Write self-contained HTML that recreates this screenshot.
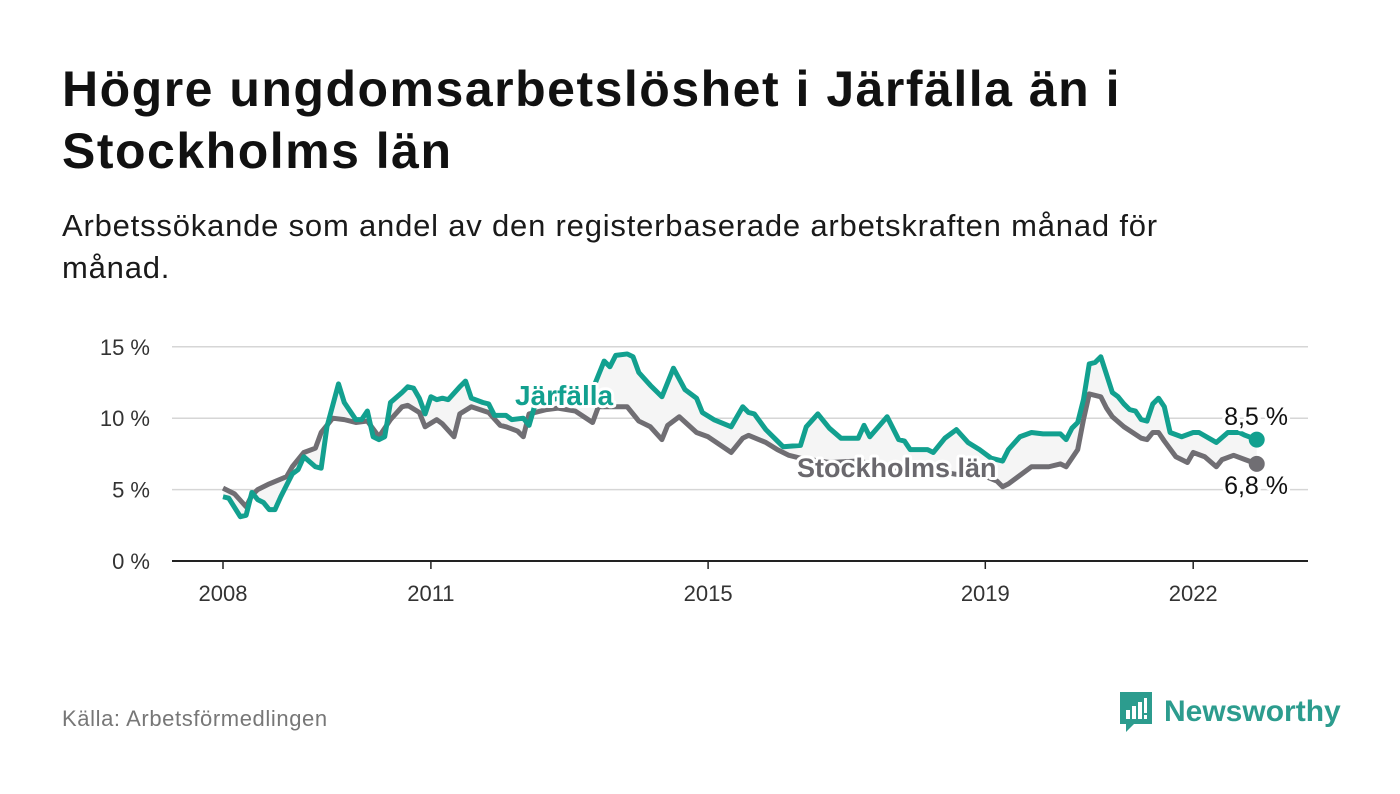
<!DOCTYPE html>
<html><head><meta charset="utf-8"><style>
body{margin:0;width:1400px;height:794px;background:#fff;font-family:"Liberation Sans",sans-serif;overflow:hidden;position:relative}
h1{position:absolute;left:62px;top:58px;margin:0;font-size:50px;line-height:62px;font-weight:bold;color:#111;width:1190px;letter-spacing:1.5px}
.sub{position:absolute;left:62px;top:205px;font-size:31px;line-height:42px;color:#1a1a1a;width:1180px;letter-spacing:0.8px}
.src{position:absolute;left:62px;top:706px;font-size:22px;color:#777;letter-spacing:0.6px}
.logo{position:absolute;left:1118px;top:690px;display:flex;align-items:center;gap:10px;color:#2c9c8e;font-size:30px;font-weight:bold}
svg text{font-family:"Liberation Sans",sans-serif}
</style></head><body>
<h1>Högre ungdomsarbetslöshet i Järfälla än i Stockholms län</h1>
<div class="sub">Arbetssökande som andel av den registerbaserade arbetskraften månad för månad.</div>
<svg id="chart" width="1400" height="794" style="position:absolute;left:0;top:0"></svg>
<div class="src">Källa: Arbetsförmedlingen</div>
<div class="logo">
<svg width="36" height="44" viewBox="0 0 36 44"><path d="M2 2h32v32H16l-8 8v-8H2z" fill="#2c9c8e"/><rect x="8" y="20" width="4" height="9" fill="#fff"/><rect x="14" y="16" width="4" height="13" fill="#fff"/><rect x="20" y="12" width="4" height="17" fill="#fff"/><rect x="26" y="8" width="3" height="15" fill="#fff"/><rect x="26" y="25" width="3" height="4" fill="#fff"/></svg>
<span>Newsworthy</span></div>
<script>
const jMonths=[0,1,3,4,5,6,7,8,9,10,12,13,14,16,17,18,19,20,21,23,24,25,26,27,28,29,31,32,33,34,35,36,37,38,39,41,42,43,45,46,47,48,49,50,52,53,54,56,59,62,64,65,66,67,68,70,71,72,74,76,78,80,82,83,85,88,90,91,92,94,96,97,100,101,103,105,107,110,111,112,115,117,118,119,122,123,125,127,129,131,133,135,136,138,140,142,145,146,147,148,149,150,151,152,154,155,156,157,158,159,160,161,162,163,164,166,168,169,172,174,176,177,179];
const jValues=[4.5,4.4,3.1,3.2,4.8,4.3,4.1,3.6,3.6,4.5,6.1,6.4,7.3,6.6,6.5,9.4,10.9,12.4,11.1,9.9,9.9,10.5,8.7,8.5,8.7,11.1,11.8,12.2,12.1,11.4,10.3,11.5,11.3,11.4,11.3,12.2,12.6,11.4,11.1,11.0,10.2,10.2,10.2,9.9,10.0,9.5,10.9,11.2,11.5,11.8,12.0,13.0,14.0,13.6,14.4,14.5,14.3,13.2,12.3,11.5,13.5,12.0,11.4,10.4,9.9,9.4,10.8,10.4,10.3,9.2,8.4,8.0,8.1,9.4,10.3,9.3,8.6,8.6,9.5,8.7,10.1,8.5,8.4,7.8,7.8,7.6,8.6,9.2,8.3,7.8,7.2,7.0,7.8,8.7,9.0,8.9,8.9,8.5,9.3,9.7,11.3,13.8,13.9,14.3,11.8,11.5,11.0,10.6,10.5,9.9,9.8,11.0,11.4,10.8,9.0,8.7,9.0,9.0,8.3,9.0,9.0,8.8,8.5];
const sMonths=[0,2,4,5,6,8,11,12,14,16,17,19,21,23,25,27,29,31,32,34,35,37,38,40,41,43,46,48,49,51,52,53,56,58,61,64,65,70,72,74,76,77,79,82,84,88,90,91,94,96,98,100,105,110,115,120,125,128,131,134,135,136,140,143,145,146,148,149,150,152,153,154,156,159,160,161,162,163,165,167,168,170,172,173,175,177,179];
const sValues=[5.1,4.7,3.8,4.6,5.0,5.4,5.9,6.6,7.6,7.9,9.0,10.0,9.9,9.7,9.8,8.7,9.9,10.8,10.9,10.4,9.4,9.9,9.6,8.7,10.3,10.8,10.4,9.5,9.4,9.1,8.7,10.3,10.6,10.7,10.5,9.7,10.8,10.8,9.8,9.4,8.5,9.5,10.1,9.0,8.7,7.6,8.6,8.8,8.3,7.8,7.4,7.2,6.9,7.0,6.6,6.3,6.2,6.0,6.1,5.6,5.2,5.4,6.6,6.6,6.8,6.6,7.8,9.9,11.7,11.5,10.7,10.1,9.4,8.6,8.5,9.0,9.0,8.4,7.3,6.9,7.6,7.3,6.6,7.1,7.4,7.1,6.8];
const yTicks=[0,5,10,15];
const yTickLabels=["0 %","5 %","10 %","15 %"];
const xTicks=[2008,2011,2015,2019,2022];
const NS='http://www.w3.org/2000/svg';
const svg=document.getElementById('chart');
const X=m=>223+m*5.775;
const XY=yr=>223+(yr-2008)*69.3;
const Y=v=>561-v*14.28;
function el(t,a,p){const e=document.createElementNS(NS,t);for(const k in a)e.setAttribute(k,a[k]);(p||svg).appendChild(e);return e;}
yTicks.forEach((v,i)=>{
  if(v>0){const g=el('line',{x1:172,x2:1308,y1:Y(v),y2:Y(v),stroke:'#d6d6d6','stroke-width':1.5});
  
  }
  const t=el('text',{x:150,y:Y(v)+8,'text-anchor':'end','font-size':22,fill:'#333'});t.textContent=yTickLabels[i];
  
  
});
const ax=el('line',{x1:172,x2:1308,y1:Y(0),y2:Y(0),stroke:'#222','stroke-width':2});


xTicks.forEach(yr=>{
  el('line',{x1:XY(yr),x2:XY(yr),y1:Y(0),y2:Y(0)+8,stroke:'#222','stroke-width':1.5});
  const t=el('text',{x:XY(yr),y:601,'text-anchor':'middle','font-size':22,fill:'#333'});t.textContent=yr;
  
  
});
const jp=jMonths.map((m,i)=>[X(m),Y(jValues[i])]);
const sp=sMonths.map((m,i)=>[X(m),Y(sValues[i])]);
const fill=el('polygon',{points:jp.concat(sp.slice().reverse()).map(p=>p.join(',')).join(' '),fill:'#f5f5f5'});


const sl=el('polyline',{points:sp.map(p=>p.join(',')).join(' '),fill:'none',stroke:'#706e73','stroke-width':5,'stroke-linejoin':'round'});


const jl=el('polyline',{points:jp.map(p=>p.join(',')).join(' '),fill:'none',stroke:'#12a08f','stroke-width':5,'stroke-linejoin':'round'});


const jLast=jp[jp.length-1],sLast=sp[sp.length-1];
const jd=el('circle',{cx:jLast[0],cy:jLast[1],r:8,fill:'#12a08f'});


const sd=el('circle',{cx:sLast[0],cy:sLast[1],r:8,fill:'#706e73'});


function lab(x,y,txt,col,w,name,anchor,fs){const t=el('text',{x:x,y:y,'font-size':fs||25,'font-weight':w,fill:col,stroke:'#fff','stroke-width':6,'paint-order':'stroke','stroke-linejoin':'round','text-anchor':anchor||'start'});t.textContent=txt;

}
lab(515,405,'Järfälla','#12a08f','bold','jarfalla-label','start',28);
lab(797,477,'Stockholms län','#6a686d','bold','stockholm-label','start',27);
lab(1288,425,(jValues[jValues.length-1]).toFixed(1).replace('.',',')+' %','#111','normal','jarfalla-end-value','end',25);
lab(1288,494,(sValues[sValues.length-1]).toFixed(1).replace('.',',')+' %','#111','normal','stockholm-end-value','end',25);
</script>
</body></html>
